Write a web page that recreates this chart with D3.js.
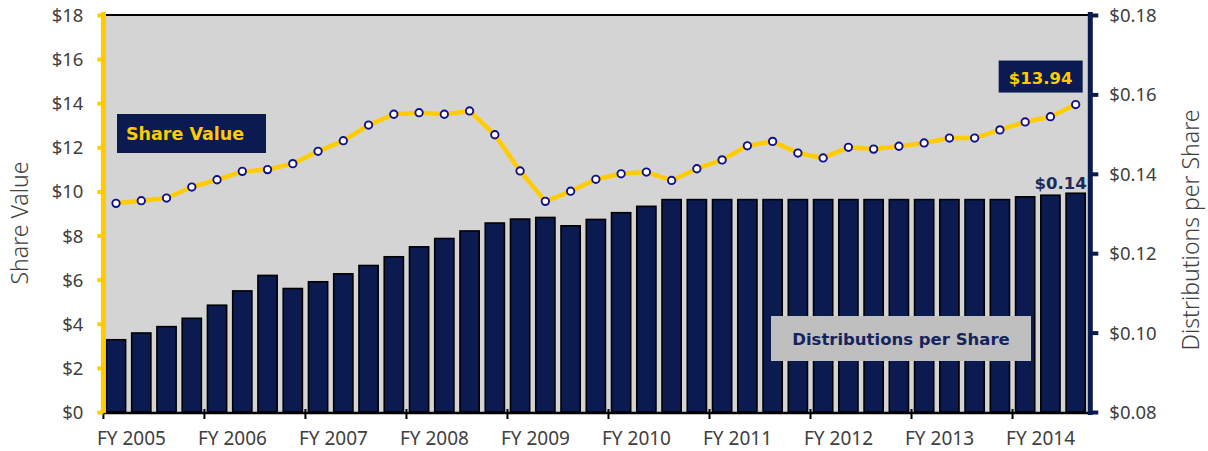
<!DOCTYPE html>
<html>
<head>
<meta charset="utf-8">
<script src="https://cdn.jsdelivr.net/npm/d3@7"></script>
<style>
  body { margin: 0; background: #fff; }
  svg { display: block; }
  .tick text { font-family: "Noto Sans", sans-serif; font-size: 18.5px; fill: #404040; }
  .x-axis .tick text { font-size: 19px; }
  .title { font-family: "Noto Sans", sans-serif; font-size: 23px; font-weight: 300; fill: #404040; }
  .tag { font-family: "DejaVu Sans", sans-serif; font-weight: bold; font-size: 16.5px; }
</style>
</head>
<body>
<div id="chart"></div>
<script>
// fiscal years, four quarters each (last year only three)
let years = [ 2005, 2006, 2007, 2008, 2009, 2010, 2011, 2012, 2013, 2014 ]
let quarters = []
years.forEach(y => [ 1, 2, 3, 4 ].forEach(q => {
  if (!(y === 2014 && q === 4)) quarters.push('FY ' + y + ' Q' + q)
}))

let shareValue = [ 9.46, 9.58, 9.70, 10.20, 10.53, 10.91, 10.99, 11.26, 11.82, 12.30,
  13.01, 13.50, 13.57, 13.50, 13.65, 12.57, 10.93, 9.55, 10.01, 10.55,
  10.80, 10.88, 10.50, 11.03, 11.43, 12.07, 12.27, 11.74, 11.52, 12.00,
  11.92, 12.05, 12.20, 12.42, 12.42, 12.79, 13.15, 13.39, 13.94 ]

let distributions = [ 0.0982, 0.0999, 0.1015, 0.1036, 0.1069, 0.1105, 0.1144, 0.1111, 0.1128, 0.1148,
  0.1169, 0.1191, 0.1216, 0.1237, 0.1256, 0.1276, 0.1286, 0.1290, 0.1269, 0.1285,
  0.1302, 0.1318, 0.1335, 0.1335, 0.1335, 0.1335, 0.1335, 0.1335, 0.1335, 0.1335,
  0.1335, 0.1335, 0.1335, 0.1335, 0.1335, 0.1335, 0.1342, 0.1346, 0.1351 ]

let leftTicks = [ 0, 2, 4, 6, 8, 10, 12, 14, 16, 18 ]
let rightTicks = [ 0.08, 0.10, 0.12, 0.14, 0.16, 0.18 ]

let navy = '#0b1b52'
let gold = '#ffcc00'

let width = 1208
let height = 451
let plotLeft = 103.4
let plotRight = 1088.3
let plotTop = 15
let plotBottom = 412

let svg = d3.select('#chart').append('svg')
  .attr('width', width)
  .attr('height', height)

let x = d3.scaleBand().domain(quarters).range([ plotLeft, plotRight ]).paddingInner(0.24).paddingOuter(0.12)
let yL = d3.scaleLinear().domain([ 0, 18 ]).range([ plotBottom, plotTop ])
let yR = d3.scaleLinear().domain([ 0.08, 0.18 ]).range([ plotBottom, plotTop ])
let cx = d => x(d) + x.bandwidth() / 2

// plot background
svg.append('rect')
  .attr('x', plotLeft).attr('y', plotTop)
  .attr('width', plotRight - plotLeft + 1).attr('height', plotBottom - plotTop + 1)
  .attr('fill', '#d4d4d4')
svg.append('line')
  .attr('x1', plotLeft).attr('x2', plotRight + 1)
  .attr('y1', plotTop).attr('y2', plotTop)
  .attr('stroke', '#000').attr('stroke-width', 2.2)

// bars
svg.append('g').selectAll('rect')
  .data(distributions)
  .enter()
  .append('rect')
  .attr('x', (d, i) => x(quarters[ i ]))
  .attr('y', d => yR(d))
  .attr('width', x.bandwidth())
  .attr('height', d => plotBottom - yR(d))
  .attr('fill', navy)
  .attr('stroke', '#000')
  .attr('stroke-width', 1.6)

// bottom axis
let yearStarts = quarters.filter((d, i) => i % 4 === 0)
let xAxis = svg.append('g')
  .attr('class', 'x-axis')
  .attr('transform', 'translate(0,' + (plotBottom + 1) + ')')
  .call(d3.axisBottom(x).tickValues(yearStarts).tickSize(0).tickFormat(''))
xAxis.select('.domain').attr('stroke', '#000').attr('stroke-width', 2.6)
  .attr('d', 'M' + plotLeft + ',0H' + (plotRight + 2))
xAxis.selectAll('.tick').each(function (d) {
  let g = d3.select(this)
  let bx = x(d) - x.step() * x.paddingInner() / 2
  g.attr('transform', 'translate(' + bx + ',0)')
  g.append('line').attr('y1', -4).attr('y2', 6).attr('stroke', '#000').attr('stroke-width', 2)
  g.select('text').remove()
  g.append('text')
    .attr('x', 28).attr('y', 32)
    .attr('text-anchor', 'middle')
    .text(d.slice(0, 7))
})

// left axis
let axL = svg.append('g')
  .attr('transform', 'translate(' + plotLeft + ',0)')
  .call(d3.axisLeft(yL).tickValues(leftTicks).tickSize(6).tickPadding(14).tickFormat(d => '$' + d))
axL.select('.domain').attr('stroke', gold).attr('stroke-width', 5)
  .attr('d', 'M0,' + (plotTop - 3) + 'V' + (plotBottom + 1))
axL.selectAll('.tick line').attr('stroke', gold).attr('stroke-width', 4)
axL.selectAll('.tick text').attr('dy', '0.35em')

// right axis
let axR = svg.append('g')
  .attr('transform', 'translate(' + (plotRight + 2) + ',0)')
  .call(d3.axisRight(yR).tickValues(rightTicks).tickSize(8).tickPadding(11).tickFormat(d3.format('$.2f')))
axR.select('.domain').attr('stroke', navy).attr('stroke-width', 5)
  .attr('d', 'M0,' + (plotTop - 3) + 'V' + (plotBottom + 3))
axR.selectAll('.tick line').attr('stroke', navy).attr('stroke-width', 4)
axR.selectAll('.tick text').attr('dy', '0.35em')

// share value line
let line = d3.line()
  .x((d, i) => cx(quarters[ i ]))
  .y(d => yL(d))
svg.append('path')
  .datum(shareValue)
  .attr('d', line)
  .attr('fill', 'none')
  .attr('stroke', gold)
  .attr('stroke-width', 4.5)
  .attr('stroke-linejoin', 'round')
svg.append('g').selectAll('circle')
  .data(shareValue)
  .enter()
  .append('circle')
  .attr('cx', (d, i) => cx(quarters[ i ]))
  .attr('cy', d => yL(d))
  .attr('r', 3.7)
  .attr('fill', '#fff')
  .attr('stroke', '#10108a')
  .attr('stroke-width', 1.9)

// axis titles
svg.append('text')
  .attr('class', 'title')
  .attr('transform', 'translate(28,223) rotate(-90)')
  .attr('text-anchor', 'middle')
  .text('Share Value')
svg.append('text')
  .attr('class', 'title')
  .attr('transform', 'translate(1199,230) rotate(-90)')
  .attr('text-anchor', 'middle')
  .text('Distributions per Share')

// legend-like tags
svg.append('rect').attr('x', 117).attr('y', 114).attr('width', 149).attr('height', 39).attr('fill', navy)
svg.append('text').attr('class', 'tag').attr('x', 126).attr('y', 140)
  .attr('fill', gold).style('font-size', '17.5px').text('Share Value')

svg.append('rect').attr('x', 771).attr('y', 316).attr('width', 260).attr('height', 45).attr('fill', '#bfbfbf')
svg.append('text').attr('class', 'tag').attr('x', 901).attr('y', 345)
  .attr('text-anchor', 'middle').attr('fill', '#16245e').text('Distributions per Share')

// last values
let last = quarters.length - 1
let lx = cx(quarters[ last ])
svg.append('rect').attr('x', lx - 77).attr('y', yL(shareValue[ last ]) - 44)
  .attr('width', 84).attr('height', 32).attr('fill', navy)
svg.append('text').attr('class', 'tag')
  .attr('x', lx - 35).attr('y', yL(shareValue[ last ]) - 21)
  .attr('text-anchor', 'middle').attr('fill', gold)
  .text('$' + shareValue[ last ].toFixed(2))
svg.append('text').attr('class', 'tag')
  .attr('x', lx + 11).attr('y', yR(distributions[ last ]) - 4)
  .attr('text-anchor', 'end').attr('fill', '#1c2a5a')
  .text('$' + distributions[ last ].toFixed(2))
</script>
</body>
</html>
